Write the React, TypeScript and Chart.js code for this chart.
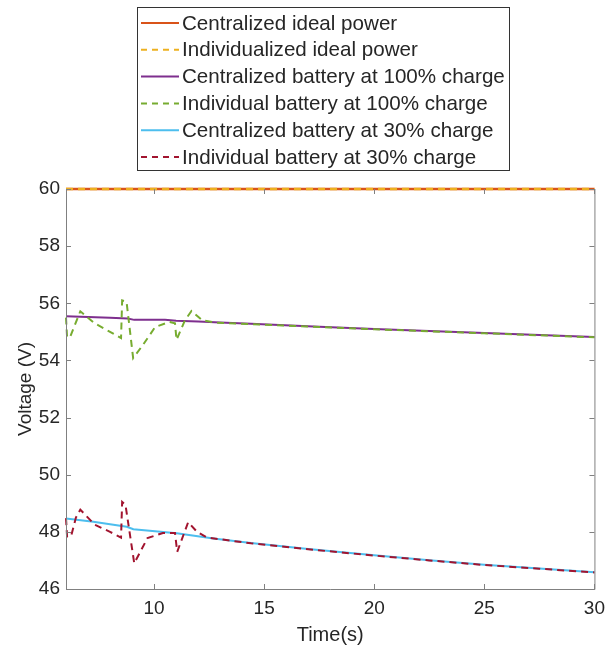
import React, { useEffect, useRef } from "react";
import { Chart, registerables } from "chart.js";

Chart.register(...registerables);

// ---- data ----
const timeIdeal = [6, 30];
const centralizedIdeal = [60, 60];
const individualIdeal = [60, 60];

const timeC100 = [6, 7, 8, 8.8, 9.1, 10, 10.5, 11, 12, 13, 14.4, 17.5, 20, 22.5, 25, 27.5, 30];
const centralized100 = [55.55, 55.52, 55.49, 55.47, 55.42, 55.42, 55.42, 55.39, 55.36, 55.33, 55.28, 55.18, 55.1, 55.03, 54.96, 54.89, 54.82];

const timeI100 = [6.0, 6.05, 6.2, 6.65, 7.3, 8.0, 8.5, 8.55, 8.75, 9.05, 9.5, 10.05, 10.7, 10.95, 11.02, 11.4, 11.7, 12.2, 12.85, 14.4, 17.5, 20, 22.5, 25, 27.5, 30];
const individual100 = [55.5, 54.8, 54.85, 55.72, 55.3, 55.0, 54.78, 56.1, 56.05, 54.08, 54.55, 55.17, 55.35, 55.3, 54.72, 55.4, 55.73, 55.4, 55.32, 55.27, 55.17, 55.09, 55.02, 54.95, 54.88, 54.81];

const timeC30 = [6, 7.24, 8.76, 9.06, 11.03, 12.7, 14.4, 17, 20, 22.5, 25, 27.5, 30];
const centralized30 = [48.47, 48.35, 48.18, 48.09, 47.95, 47.77, 47.61, 47.4, 47.18, 47.01, 46.85, 46.72, 46.59];

const timeI30 = [6.0, 6.05, 6.25, 6.45, 6.65, 7.3, 8.0, 8.5, 8.55, 8.7, 9.1, 9.7, 10.4, 10.95, 11.05, 11.55, 11.95, 12.4, 14.4, 17, 20, 22.5, 25, 27.5, 30];
const individual30 = [48.48, 47.82, 47.9, 48.5, 48.78, 48.25, 48.0, 47.8, 49.05, 48.95, 46.9, 47.78, 47.96, 47.96, 47.3, 48.34, 48.0, 47.8, 47.6, 47.39, 47.17, 47.0, 46.84, 46.71, 46.58];

const xTicks = [10, 15, 20, 25, 30];
const yTicks = [46, 48, 50, 52, 54, 56, 58, 60];

const labels = [
  "Centralized ideal power",
  "Individualized ideal power",
  "Centralized battery at 100% charge",
  "Individual battery at 100% charge",
  "Centralized battery at 30% charge",
  "Individual battery at 30% charge",
];
const colors = ["#D95319", "#EDB120", "#7E2F8E", "#77AC30", "#4DBEEE", "#A2142F"];
const dashed = [false, true, false, true, false, true];

const toPts = (xs: number[], ys: number[]) => xs.map((x, i) => ({ x, y: ys[i] }));

const FONT = "'Liberation Sans', Arial, sans-serif";
const TEXT = "#262626";
const AXIS = "#808080";

const boxPlugin = {
  id: "boxTicks",
  afterDraw(chart: any) {
    const { ctx, chartArea: a, scales } = chart;
    ctx.save();
    ctx.strokeStyle = AXIS;
    ctx.lineWidth = 1;
    ctx.beginPath();
    ctx.moveTo(a.left + 0.5, a.top);
    ctx.lineTo(a.left + 0.5, a.bottom + 0.5);
    ctx.lineTo(a.right + 0.5, a.bottom + 0.5);
    ctx.lineTo(a.right + 0.5, a.top);
    ctx.stroke();
    const tl = 5;
    ctx.beginPath();
    xTicks.forEach((v) => {
      const px = Math.round(scales.x.getPixelForValue(v)) + 0.5;
      ctx.moveTo(px, a.bottom);
      ctx.lineTo(px, a.bottom - tl);
      ctx.moveTo(px, a.top);
      ctx.lineTo(px, a.top + tl);
    });
    yTicks.forEach((v) => {
      const py = Math.round(scales.y.getPixelForValue(v)) + 0.5;
      ctx.moveTo(a.left, py);
      ctx.lineTo(a.left + tl, py);
      ctx.moveTo(a.right, py);
      ctx.lineTo(a.right - tl, py);
    });
    ctx.stroke();
    ctx.restore();
  },
};

const legendPlugin = {
  id: "boxLegend",
  afterDraw(chart: any) {
    const { ctx } = chart;
    ctx.save();
    const x0 = 137, y0 = 7, w = 372, h = 163;
    ctx.fillStyle = "#ffffff";
    ctx.fillRect(x0, y0, w, h);
    ctx.strokeStyle = "#333333";
    ctx.lineWidth = 1;
    ctx.strokeRect(x0 + 0.5, y0 + 0.5, w, h);
    ctx.font = `20.6px ${FONT}`;
    ctx.textBaseline = "middle";
    labels.forEach((lab, i) => {
      const y = 23 + i * 26.8;
      ctx.strokeStyle = colors[i];
      ctx.lineWidth = 2;
      ctx.setLineDash(dashed[i] ? [6, 5] : []);
      ctx.beginPath();
      ctx.moveTo(141, y);
      ctx.lineTo(179, y);
      ctx.stroke();
      ctx.setLineDash([]);
      ctx.fillStyle = TEXT;
      ctx.fillText(lab, 182, y + 1);
    });
    ctx.restore();
  },
};

export default function App() {
  const ref = useRef<HTMLCanvasElement>(null);
  useEffect(() => {
    document.body.style.margin = "0";
    const series = [
      toPts(timeIdeal, centralizedIdeal),
      toPts(timeIdeal, individualIdeal),
      toPts(timeC100, centralized100),
      toPts(timeI100, individual100),
      toPts(timeC30, centralized30),
      toPts(timeI30, individual30),
    ];
    const chart = new Chart(ref.current!, {
      type: "line",
      data: {
        datasets: series.map((d, i) => ({
          label: labels[i],
          data: d,
          borderColor: colors[i],
          backgroundColor: colors[i],
          borderWidth: i < 2 ? 2.5 : 2,
          borderDash: dashed[i] ? [7, 5] : [],
          pointRadius: 0,
          tension: 0,
          order: 5 - i,
          clip: false as any,
        })),
      },
      options: {
        animation: false,
        responsive: false,
        layout: { padding: { left: 0, top: 189, right: 18, bottom: 0 } },
        plugins: { legend: { display: false }, tooltip: { enabled: false } },
        scales: {
          x: {
            type: "linear",
            min: 6,
            max: 30,
            afterBuildTicks: (s: any) => {
              s.ticks = xTicks.map((v) => ({ value: v }));
            },
            afterFit: (s: any) => {
              s.height = 58;
            },
            grid: { display: false, drawTicks: false },
            border: { display: false },
            ticks: { color: TEXT, font: { family: FONT, size: 19 }, padding: 8, maxRotation: 0 },
            title: { display: true, text: "Time(s)", color: TEXT, font: { family: FONT, size: 20 }, padding: { top: 0, bottom: 0 } },
          },
          y: {
            type: "linear",
            min: 46,
            max: 60,
            afterBuildTicks: (s: any) => {
              s.ticks = yTicks.map((v) => ({ value: v }));
            },
            afterFit: (s: any) => {
              s.width = 66;
            },
            grid: { display: false, drawTicks: false },
            border: { display: false },
            ticks: { color: TEXT, font: { family: FONT, size: 19 }, padding: 6 },
            title: { display: true, text: "Voltage (V)", color: TEXT, font: { family: FONT, size: 19 }, padding: { top: 14, bottom: 0 } },
          },
        },
      },
      plugins: [boxPlugin, legendPlugin],
    });
    return () => chart.destroy();
  }, []);
  return (
    <div style={{ position: "absolute", left: 0, top: 0, width: 613, height: 647 }}>
      <canvas ref={ref} width={613} height={647} style={{ width: 613, height: 647 }} />
    </div>
  );
}
